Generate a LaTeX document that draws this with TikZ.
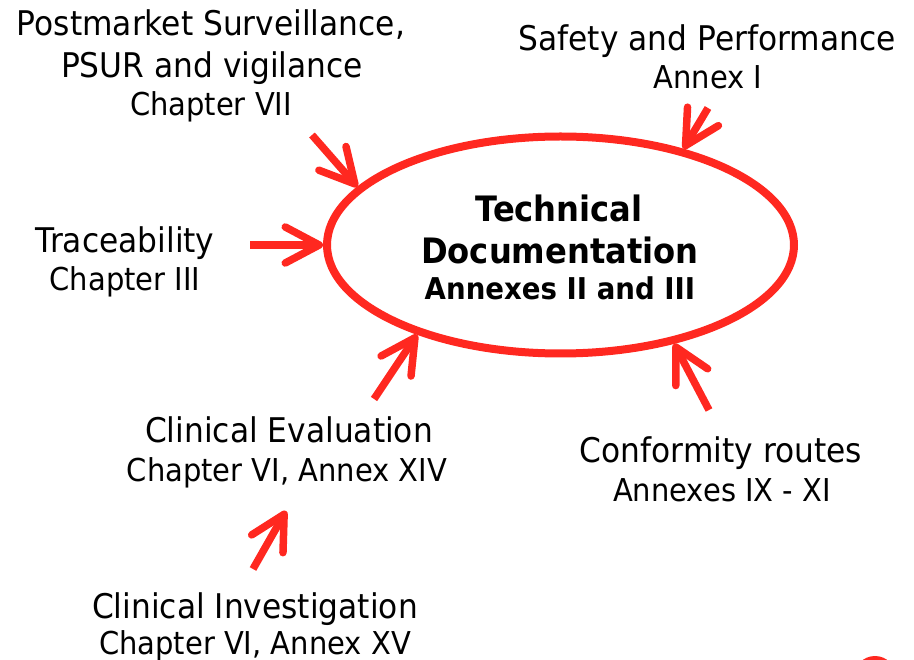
\documentclass[tikz,border=0pt]{standalone}
\usepackage{fontspec}
\setmainfont{DejaVu Sans}[FakeStretch=0.92]
\usetikzlibrary{arrows.meta,shapes.geometric}
\definecolor{mdrred}{RGB}{255,40,32}
\begin{document}
\begin{tikzpicture}[x=1pt,y=-1pt,
  big/.style={anchor=base,inner sep=0pt,font=\fontsize{34}{40}\selectfont},
  small/.style={anchor=base,inner sep=0pt,font=\fontsize{31.5}{36}\selectfont},
  hubbig/.style={anchor=base,inner sep=0pt,font=\fontsize{35}{40}\selectfont\bfseries},
  hubsmall/.style={anchor=base,inner sep=0pt,font=\fontsize{30}{34}\selectfont\bfseries},
  hub/.style={ellipse,draw=mdrred,line width=8pt,inner sep=0pt,
    minimum width=467pt,minimum height=217pt},
  feed/.style={draw=mdrred,line width=7.5pt,
    -{Straight Barb[round,length=34pt,width=36pt]}}]
\useasboundingbox (0,0) rectangle (914,660);

% central ellipse and its title
\node[hub] (doc) at (560.5,245) {};
\node[hubbig]   (docA) at (559,222) {Technical};
\node[hubbig]   (docB) at (560,264) {Documentation};
\node[hubsmall] (docC) at (560,300) {Annexes II and III};

% surrounding topics
\node[big]   (pmsA) at (211,36)  {Postmarket Surveillance,};
\node[big]   (pmsB) at (212,78)  {PSUR and vigilance};
\node[small] (pmsC) at (211,116) {Chapter VII};

\node[big]   (safA) at (707,51) {Safety and Performance};
\node[small] (safB) at (708,89) {Annex I};

\node[big]   (traA) at (125,253) {Traceability};
\node[small] (traB) at (125,291) {Chapter III};

\node[big]   (evaA) at (289,443) {Clinical Evaluation};
\node[small] (evaB) at (287,482) {Chapter VI, Annex XIV};

\node[big]   (conA) at (721,463) {Conformity routes};
\node[small] (conB) at (722,501) {Annexes IX - XI};

\node[big]   (invA) at (255,618) {Clinical Investigation};
\node[small] (invB) at (255,654) {Chapter VI, Annex XV};

% arrow tails
\coordinate (pmsT) at (312,135);
\coordinate (safT) at (708,108);
\coordinate (traT) at (250,245);
\coordinate (evaT) at (374,399);
\coordinate (conT) at (709,410);
\coordinate (invT) at (253,569);
\coordinate (invH) at (286,511);

% arrows into the documentation
\draw[feed] (pmsT) -- (doc.164.4);
\draw[feed] (safT) -- (doc.38.5);
\draw[feed] (traT) -- (doc.180);
\draw[feed] (evaT) -- (doc.212);
\draw[feed] (conT) -- (doc.-41);
\draw[feed] (invT) -- (invH);

% red mark in the corner
\fill[mdrred] (875,677) circle[radius=21];
\end{tikzpicture}
\end{document}
